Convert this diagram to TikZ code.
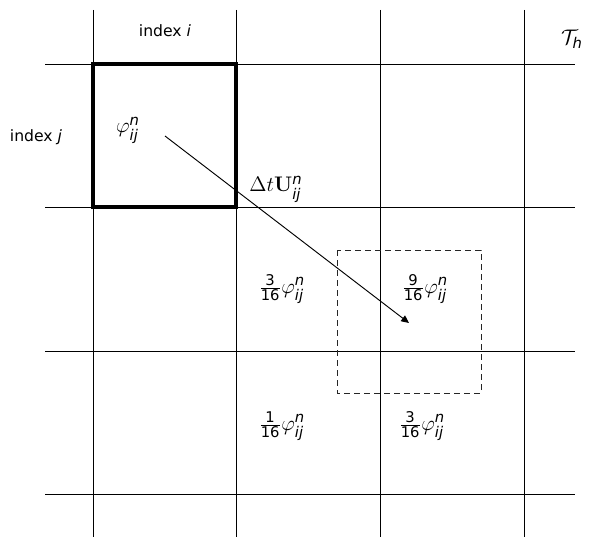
\RequirePackage{fix-cm}
\documentclass[tikz,border=0pt]{standalone}
\usepackage{amsmath}
\usepackage[no-math]{fontspec}
\setmainfont{DejaVu Sans}
\usetikzlibrary{arrows.meta}
\newcommand{\phinij}{\varphi^{\text{\itshape n}}_{\text{\itshape ij}}}
\newcommand{\wfrac}[2]{\frac{\text{#1}}{\text{#2}}}
\tikzset{
  gridline/.style={line width=0.6pt,draw=black},
  cellbox/.style={line width=2.1pt,draw=black},
  stencil/.style={line width=0.6pt,draw=black!85,dash pattern=on 3.8pt off 2.6pt},
  advect/.style={-{Triangle[length=5pt,width=4.5pt]},line width=0.6pt,draw=black},
  lbl/.style={inner sep=1pt,text=black},
  mlbl/.style={lbl,font=\fontsize{13.5}{16}\selectfont}
}
\begin{document}
\begin{tikzpicture}[x=0.64pt,y=-0.64pt]
  \useasboundingbox (0,0) rectangle (609,547);
  % mesh
  \foreach \x in {93,236,380,524}
    \draw[gridline] (\x,10) -- (\x,537);
  \foreach \y in {64,207,351,494}
    \draw[gridline] (45,\y) -- (575,\y);
  \draw[cellbox] (93,64) rectangle (236,207);
  \draw[stencil] (337,250) rectangle (481,393);
  % labels
  \node[lbl] (idxi) at (165,31) {index \textit{i}};
  \node[lbl] (idxj) at (36,137) {index \textit{j}};
  \node[mlbl] (mesh) at (572,39) {$\mathcal{T}_{\text{\itshape h}}$};
  \node[mlbl] (phi) at (128,130) {$\phinij$};
  \node[mlbl] (vel) at (276,189) {$\Delta t\mathbf{U}^{\text{\itshape n}}_{\text{\itshape ij}}$};
  \node[mlbl] (wA) at (282,289) {$\wfrac{3}{16}\phinij$};
  \node[mlbl] (wB) at (425,289) {$\wfrac{9}{16}\phinij$};
  \node[mlbl] (wC) at (282,426) {$\wfrac{1}{16}\phinij$};
  \node[mlbl] (wD) at (422,426) {$\wfrac{3}{16}\phinij$};
  % displacement
  \coordinate (tail) at (165,136);
  \coordinate (head) at (409,323);
  \draw[advect] (tail) -- (head);
\end{tikzpicture}
\end{document}
